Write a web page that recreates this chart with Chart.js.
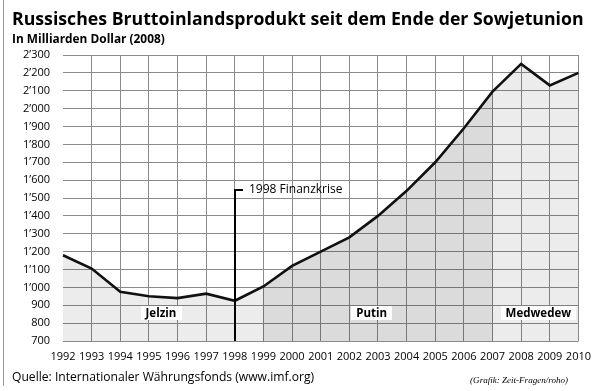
<!DOCTYPE html>
<html><head><meta charset="utf-8">
<script src="https://cdn.jsdelivr.net/npm/chart.js@4"></script>
<style>html,body{margin:0;padding:0;background:#fff}#wrap{width:600px;height:391px;position:relative}</style>
</head><body><div id="wrap"><canvas id="c" width="600" height="391"></canvas></div>
<script>
// ---- data ----
const years = ['1992','1993','1994','1995','1996','1997','1998','1999','2000','2001','2002','2003','2004','2005','2006','2007','2008','2009','2010'];
const gdp = [1180,1105,975,950,940,965,925,1005,1120,1200,1280,1400,1540,1700,1890,2095,2250,2130,2200];
const yTicks = [700,800,900,1000,1100,1200,1300,1400,1500,1600,1700,1800,1900,2000,2100,2200,2300];
const periodNames = ['Jelzin','Putin','Medwedew'];
const periodStarts = ['1992','1999','2007'];
const periodEnds = ['1999','2007','2010'];
const crisisYear = '1998';
const crisisLabel = '1998 Finanzkrise';
const crisisValue = 1545;

const titleText = 'Russisches Bruttoinlandsprodukt seit dem Ende der Sowjetunion';
const subtitleText = 'In Milliarden Dollar (2008)';
const sourceText = 'Quelle: Internationaler Währungsfonds (www.imf.org)';
const creditText = '(Grafik: Zeit-Fragen/roho)';

const FONT = "'Open Sans', 'Noto Sans', sans-serif";
const shades = ['rgba(0,0,0,0.075)','rgba(0,0,0,0.14)','rgba(0,0,0,0.075)'];

function fmt(v){
  if (v >= 1000) { const t = Math.floor(v/1000); const r = String(v%1000).padStart(3,'0'); return t + '\u2019' + r; }
  return String(v);
}

function fitText(ctx, text, style, family, target, x, y, align){
  ctx.font = style + ' 20px ' + family;
  const w = ctx.measureText(text).width;
  const size = 20 * target / w;
  ctx.font = style + ' ' + size.toFixed(2) + 'px ' + family;
  ctx.textAlign = align || 'left';
  ctx.textBaseline = 'middle';
  ctx.fillText(text, x, y);
}

function fillGradient(c){
  const chart = c.chart;
  const area = chart.chartArea;
  if (!area) return shades[0];
  const xs = chart.scales.x;
  const g = chart.ctx.createLinearGradient(area.left, 0, area.right, 0);
  const W = area.right - area.left;
  for (let i = 0; i < periodNames.length; i++) {
    const a = (xs.getPixelForValue(years.indexOf(periodStarts[i])) - area.left) / W;
    const b = (xs.getPixelForValue(years.indexOf(periodEnds[i])) - area.left) / W;
    g.addColorStop(Math.min(Math.max(a,0),1), shades[i]);
    g.addColorStop(Math.min(Math.max(b,0),1), shades[i]);
  }
  return g;
}

const decor = {
  id: 'decor',
  afterDatasetsDraw(chart){
    const ctx = chart.ctx;
    const xs = chart.scales.x, ys = chart.scales.y;
    const area = chart.chartArea;
    ctx.save();
    // crisis marker
    const cx = Math.round(xs.getPixelForValue(years.indexOf(crisisYear)));
    const cy = Math.round(ys.getPixelForValue(crisisValue));
    ctx.strokeStyle = '#000';
    ctx.lineWidth = 2;
    ctx.beginPath();
    ctx.moveTo(cx, area.bottom);
    ctx.lineTo(cx, cy);
    ctx.lineTo(cx + 8, cy);
    ctx.stroke();
    ctx.fillStyle = '#000';
    ctx.font = '12px ' + FONT;
    ctx.textAlign = 'left';
    ctx.textBaseline = 'middle';
    ctx.fillText(crisisLabel, cx + 14, cy);
    // period labels
    const labelPos = [3.42, 10.78, 16.6];
    const labelVal = 855;
    ctx.font = 'bold 11.5px ' + FONT;
    for (let i = 0; i < periodNames.length; i++) {
      const px = xs.left + (xs.right - xs.left) * labelPos[i] / (years.length - 1);
      const py = ys.getPixelForValue(labelVal);
      const w = ctx.measureText(periodNames[i]).width + 10;
      ctx.fillStyle = '#fff';
      ctx.fillRect(Math.round(px - w/2), Math.round(py - 7), Math.round(w), 14);
      ctx.fillStyle = '#000';
      ctx.textAlign = 'center';
      ctx.fillText(periodNames[i], px, py + 0.5);
    }
    ctx.restore();
  },
  afterDraw(chart){
    const ctx = chart.ctx;
    ctx.save();
    ctx.fillStyle = '#000';
    fitText(ctx, titleText, 'bold', FONT, 572, 12, 20, 'left');
    fitText(ctx, subtitleText, 'bold', FONT, 153, 12, 40, 'left');
    fitText(ctx, sourceText, 'normal', FONT, 302, 12, 378, 'left');
    fitText(ctx, creditText, 'italic', "'Liberation Serif', 'DejaVu Serif', serif", 98, 568, 381, 'right');
    // left frame line
    ctx.strokeStyle = '#999';
    ctx.lineWidth = 1;
    ctx.beginPath();
    ctx.moveTo(3.5, 0);
    ctx.lineTo(3.5, 386);
    ctx.stroke();
    ctx.restore();
  }
};

new Chart(document.getElementById('c'), {
  type: 'line',
  data: {
    labels: years,
    datasets: [{
      data: gdp,
      borderColor: '#111',
      borderWidth: 2.6,
      pointRadius: 0,
      tension: 0,
      fill: 'start',
      backgroundColor: fillGradient
    }]
  },
  options: {
    responsive: false,
    animation: false,
    devicePixelRatio: 1,
    layout: { padding: { left: 0, right: 16, top: 55, bottom: 0 } },
    plugins: { legend: { display: false }, tooltip: { enabled: false }, title: { display: false } },
    scales: {
      x: {
        type: 'category',
        offset: false,
        border: { display: false },
        grid: { color: c => c.index === 0 ? 'rgba(0,0,0,0)' : '#8a8a8a', lineWidth: 1, drawTicks: false },
        ticks: { autoSkip: false, maxRotation: 0, minRotation: 0, color: '#000', padding: 9, font: { family: FONT, size: 11 } },
        afterFit: s => { s.height = 50; }
      },
      y: {
        min: 700, max: 2300,
        border: { display: false },
        grid: { color: '#8a8a8a', lineWidth: 1, drawTicks: false },
        afterBuildTicks: s => { s.ticks = yTicks.map(v => ({ value: v })); },
        ticks: { color: '#000', padding: 13, font: { family: FONT, size: 11 }, callback: v => fmt(v) },
        afterFit: s => { s.width = 63; }
      }
    }
  },
  plugins: [decor]
});
</script>
</body></html>
